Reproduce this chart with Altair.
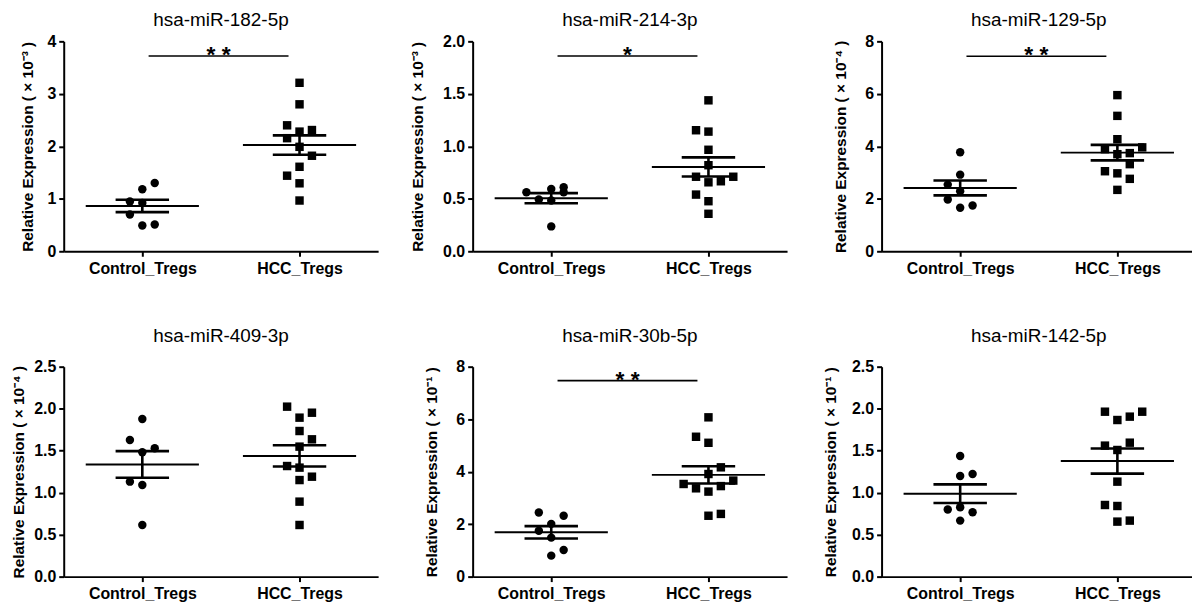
import altair as alt
import pandas as pd
import numpy as np

groups = ["Control_Tregs", "HCC_Tregs"]
mirnas = ["hsa-miR-182-5p", "hsa-miR-214-3p", "hsa-miR-129-5p",
          "hsa-miR-409-3p", "hsa-miR-30b-5p", "hsa-miR-142-5p"]
exponents = ["⁻³", "⁻³", "⁻⁴", "⁻⁴", "⁻¹", "⁻¹"]
y_max = [4, 2.0, 8, 2.5, 8, 2.5]
y_step = [1, 0.5, 2, 0.5, 2, 0.5]
signif = ["* *", "*", "* *", "", "* *", ""]
bracket_y = [3.72, 1.86, 7.43, 0, 7.47, 0]

# Control_Tregs values and horizontal lanes (scatter columns)
c182 = [1.30, 1.18, 0.95, 0.92, 0.70, 0.49, 0.51]
c182_lane = [1, 0, -1, 0, -1, 0, 1]
c214 = [0.562, 0.594, 0.61, 0.562, 0.493, 0.483, 0.237]
c214_lane = [-2, 0, 1, 1, -1, 0, 0]
c129 = [3.77, 2.92, 2.54, 2.29, 1.97, 1.66, 1.745]
c129_lane = [0, 0, -1, 0, -1, 0, 1]
c409 = [1.877, 1.627, 1.48, 1.528, 1.131, 1.09, 0.615]
c409_lane = [0, -1, 0, 1, -1, 0, 0]
c30b = [2.44, 2.32, 2.01, 1.75, 1.486, 1.016, 0.80]
c30b_lane = [-1, 1, 0, -1, 0, 1, 0]
c142 = [1.437, 1.198, 1.222, 0.80, 0.825, 0.766, 0.667]
c142_lane = [0, 0, 1, -1, 0, 1, 0]

# HCC_Tregs values and lanes
h182 = [3.21, 2.80, 2.40, 2.28, 2.31, 2.155, 1.99, 1.82, 1.61, 1.44, 1.295, 0.967]
h182_lane = [0, 0, -1, 0, 1, -1, 0, 1, 0, -1, 0, 0]
h214 = [1.438, 1.153, 1.14, 0.967, 0.82, 0.71, 0.71, 0.657, 0.667, 0.54, 0.477, 0.357]
h214_lane = [0, -1, 0, 0, 0, -1, 2, 0, 1, -1, 0, 0]
h129 = [5.95, 5.16, 4.27, 3.89, 3.96, 3.70, 3.74, 3.32, 3.05, 2.97, 2.76, 2.34]
h129_lane = [0, 0, 0, -1, 2, 0, 1, 1, -1, 0, 1, 0]
h409 = [2.024, 1.952, 1.893, 1.734, 1.635, 1.548, 1.317, 1.298, 1.19, 1.15, 0.893, 0.615]
h409_lane = [-1, 1, 0, 0, 1, 0, -1, 0, 1, 0, 0, 0]
h30b = [6.07, 5.33, 5.10, 4.165, 3.91, 3.66, 3.53, 3.365, 3.45, 3.24, 2.32, 2.39]
h30b_lane = [0, -1, 0, 1, 0, 2, -2, -1, 1, 0, 0, 1]
h142 = [1.964, 1.865, 1.905, 1.964, 1.56, 1.508, 1.595, 1.131, 0.853, 0.841, 0.655, 0.667]
h142_lane = [-1, 0, 1, 2, -1, 0, 1, 0, -1, 0, 0, 1]

control_values = [c182, c214, c129, c409, c30b, c142]
control_lanes = [c182_lane, c214_lane, c129_lane, c409_lane, c30b_lane, c142_lane]
hcc_values = [h182, h214, h129, h409, h30b, h142]
hcc_lanes = [h182_lane, h214_lane, h129_lane, h409_lane, h30b_lane, h142_lane]

FONT = "Liberation Sans"
LANE_W = 0.079
MEAN_HALF = 0.36
SEM_HALF = 0.17
W, H = 316, 211
TITLE_PAD = [11, 17, 16, 7, 16, 13]

label_expr = f"datum.value == 0 ? '{groups[0]}' : '{groups[1]}'"


def panel(i):
    rows = []
    sets = [(control_values[i], control_lanes[i]), (hcc_values[i], hcc_lanes[i])]
    for g, (vals, lanes) in enumerate(sets):
        for v, l in zip(vals, lanes):
            rows.append({"group": groups[g], "gi": g, "x": g + l * LANE_W, "value": v})
    df = pd.DataFrame(rows)
    st = df.groupby("gi")["value"].agg(["mean", "std", "count"]).reset_index()
    st["sem"] = st["std"] / np.sqrt(st["count"])
    st["lo"] = st["mean"] - st["sem"]
    st["hi"] = st["mean"] + st["sem"]
    st["mx1"] = st["gi"] - MEAN_HALF
    st["mx2"] = st["gi"] + MEAN_HALF
    st["sx1"] = st["gi"] - SEM_HALF
    st["sx2"] = st["gi"] + SEM_HALF

    xs = alt.Scale(domain=[-0.5, 1.5], nice=False, zero=False)
    xa = alt.Axis(values=[0, 1], labelExpr=label_expr, title=None)
    ticks = list(np.round(np.arange(0, y_max[i] + y_step[i] / 2, y_step[i]), 3))
    ys = alt.Scale(domain=[0, y_max[i]], nice=False, zero=True)
    ya = alt.Axis(values=ticks, format=".1f" if y_step[i] < 1 else "d",
                  titlePadding=TITLE_PAD[i],
                  title=f"Relative Expression (  × 10{exponents[i]} )")

    def X(f):
        return alt.X(f, scale=xs, axis=xa)

    def Y(f):
        return alt.Y(f, scale=ys, axis=ya)

    pts = alt.Chart(df).mark_point(filled=True, opacity=1, color="black", size=72).encode(
        x=X("x:Q"), y=Y("value:Q"),
        shape=alt.Shape("group:N", scale=alt.Scale(domain=groups, range=["circle", "square"]), legend=None),
    )
    mean = alt.Chart(st).mark_rule(color="black", strokeWidth=2).encode(
        x=X("mx1:Q"), x2="mx2:Q", y=Y("mean:Q"))
    sem_hi = alt.Chart(st).mark_rule(color="black", strokeWidth=2.6).encode(
        x=X("sx1:Q"), x2="sx2:Q", y=Y("hi:Q"))
    sem_lo = alt.Chart(st).mark_rule(color="black", strokeWidth=2.6).encode(
        x=X("sx1:Q"), x2="sx2:Q", y=Y("lo:Q"))
    sem_v = alt.Chart(st).mark_rule(color="black", strokeWidth=2.6).encode(
        x=X("gi:Q"), y=Y("lo:Q"), y2="hi:Q")
    layers = [pts, mean, sem_hi, sem_lo, sem_v]
    if signif[i]:
        bdf = pd.DataFrame({"x1": [0.04], "x2": [0.93], "xc": [0.485],
                            "y": [bracket_y[i]], "label": [signif[i]]})
        br = alt.Chart(bdf).mark_rule(color="black", strokeWidth=1.6).encode(
            x=X("x1:Q"), x2="x2:Q", y=Y("y:Q"))
        tx = alt.Chart(bdf).mark_text(font=FONT, fontSize=23, fontWeight="bold", color="black",
                                      baseline="alphabetic", dy=6).encode(
            x=X("xc:Q"), y=Y("y:Q"), text="label:N")
        layers += [br, tx]
    offset = 3 if i < 3 else 13
    return alt.layer(*layers).properties(
        width=W, height=H,
        title=alt.TitleParams(mirnas[i], offset=offset),
    )


panels = [panel(i) for i in range(6)]

chart = alt.concat(
    *panels, columns=3, spacing={"row": 116, "column": 95}, bounds="flush"
).properties(
    autosize=alt.AutoSizeParams(type="none"),
    padding={"left": 56, "top": 32, "right": 1134, "bottom": 562},
).configure_view(strokeWidth=0).configure_axis(
    grid=False,
    domainColor="black", domainWidth=2,
    tickColor="black", tickWidth=2, tickSize=5,
    labelFont=FONT, labelFontSize=16, labelFontWeight="bold", labelColor="black",
    labelPadding=3,
    titleFont=FONT, titleFontSize=15.5, titleFontWeight="bold", titleColor="black",
).configure_axisX(labelPadding=4).configure_title(
    font=FONT, fontSize=19, fontWeight="normal", color="black", anchor="middle",
)

chart.save("out.html", embed_options={"renderer": "svg", "actions": False})
